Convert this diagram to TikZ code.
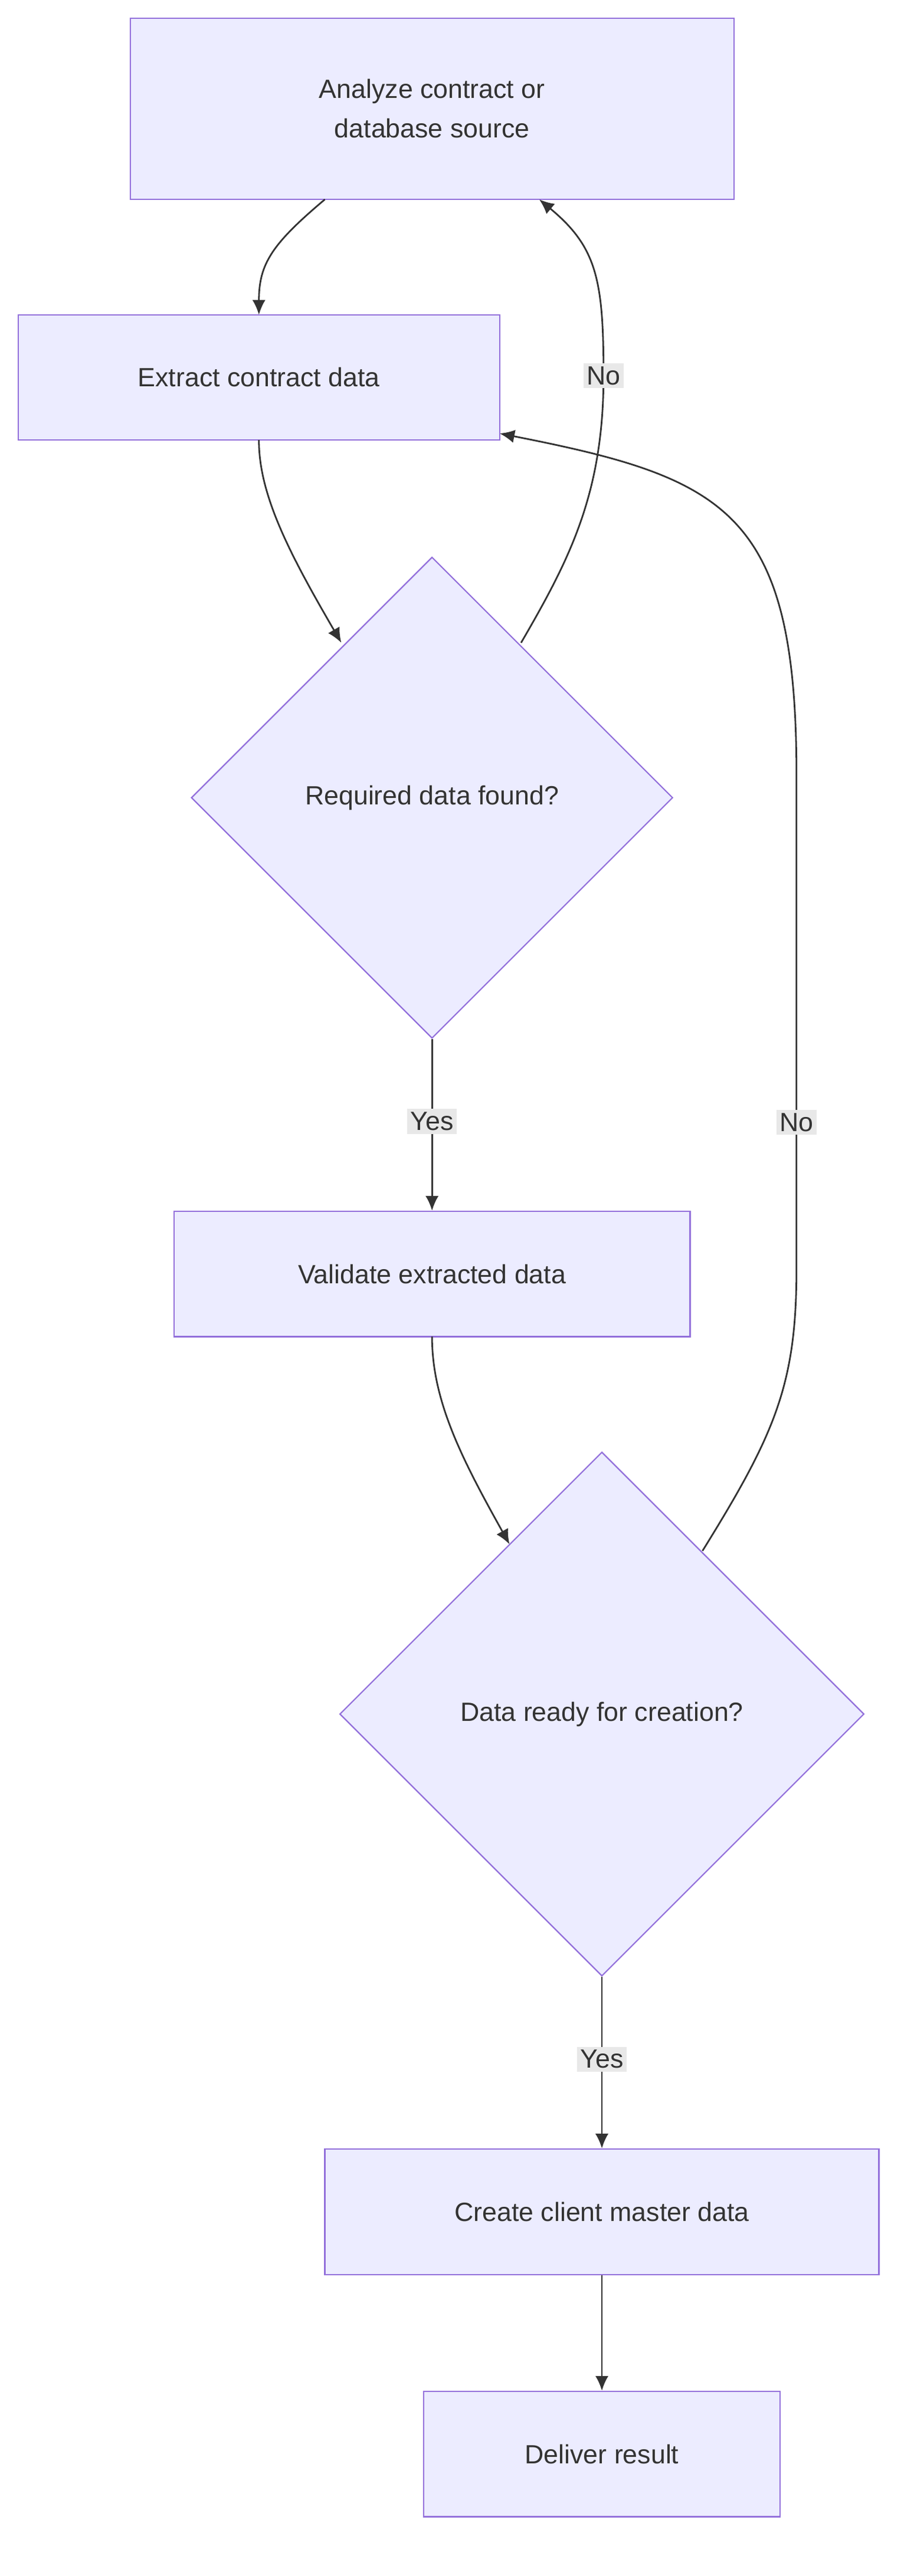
\documentclass[tikz,border=0pt]{standalone}
\usepackage{fontspec}
\setmainfont{Liberation Sans}
\usetikzlibrary{shapes.geometric,arrows.meta}
\definecolor{nfill}{HTML}{ECECFF}
\definecolor{nline}{HTML}{9370DB}
\definecolor{eline}{HTML}{333333}
\definecolor{lbg}{HTML}{E8E8E8}
\tikzset{
 box/.style={draw=nline,fill=nfill,line width=0.8pt,inner sep=0pt,font=\fontsize{16}{24}\selectfont,text=eline,align=center},
 dia/.style={box,diamond,minimum width=292pt,minimum height=292pt},
 conn/.style={draw=eline,line width=1pt,-{Latex[length=9pt,width=8pt]}},
 lab/.style={fill=lbg,text=eline,font=\fontsize{16}{18}\selectfont,inner sep=2pt}
}
\begin{document}
\begin{tikzpicture}[x=1pt,y=-1pt]
\useasboundingbox (0,0) rectangle (554,1563);
\node[box,minimum width=366pt,minimum height=110pt] (A) at (262,66) {Analyze contract or\\database source};
\node[box,minimum width=292pt,minimum height=76pt] (B) at (157,229) {Extract contract data};
\node[dia] (C) at (262,484) {Required data found?};
\node[box,minimum width=313pt,minimum height=76pt] (D) at (262,773) {Validate extracted data};
\node[dia,minimum width=318pt,minimum height=318pt] (E) at (365,1040) {Data ready for creation?};
\node[box,minimum width=336pt,minimum height=76pt] (F) at (365,1342) {Create client master data};
\node[box,minimum width=216pt,minimum height=76pt] (G) at (365,1489) {Deliver result};
\coordinate (a1) at (197,121);
\coordinate (b1) at (157,191);
\draw[conn] (a1) .. controls (165,148) and (157,160) .. (b1);
\coordinate (b2) at (157,267);
\coordinate (c1) at (207,390);
\draw[conn] (b2) .. controls (157,300) and (175,335) .. (c1);
\coordinate (c2) at (316,390);
\coordinate (a2) at (327,121);
\draw[conn] (c2) .. controls (345,340) and (366,300) .. (366,228) .. controls (366,170) and (362,150) .. (a2);
\node[lab] (l1) at (366,228) {No};
\draw[conn] (C.south) -- (D.north) node[lab,pos=0.48] (l2) {Yes};
\coordinate (d1) at (262,811);
\coordinate (e1) at (309,937);
\draw[conn] (d1) .. controls (262,850) and (280,885) .. (e1);
\coordinate (e2) at (426,941);
\coordinate (b3) at (303,263);
\draw[conn] (e2) .. controls (470,870) and (483,840) .. (483,770) -- (483,470) .. controls (483,310) and (440,290) .. (b3);
\node[lab] (l3) at (483,681) {No};
\draw[conn] (E.south) -- (F.north) node[lab,pos=0.48] (l4) {Yes};
\draw[conn] (F.south) -- (G.north);
\end{tikzpicture}
\end{document}
